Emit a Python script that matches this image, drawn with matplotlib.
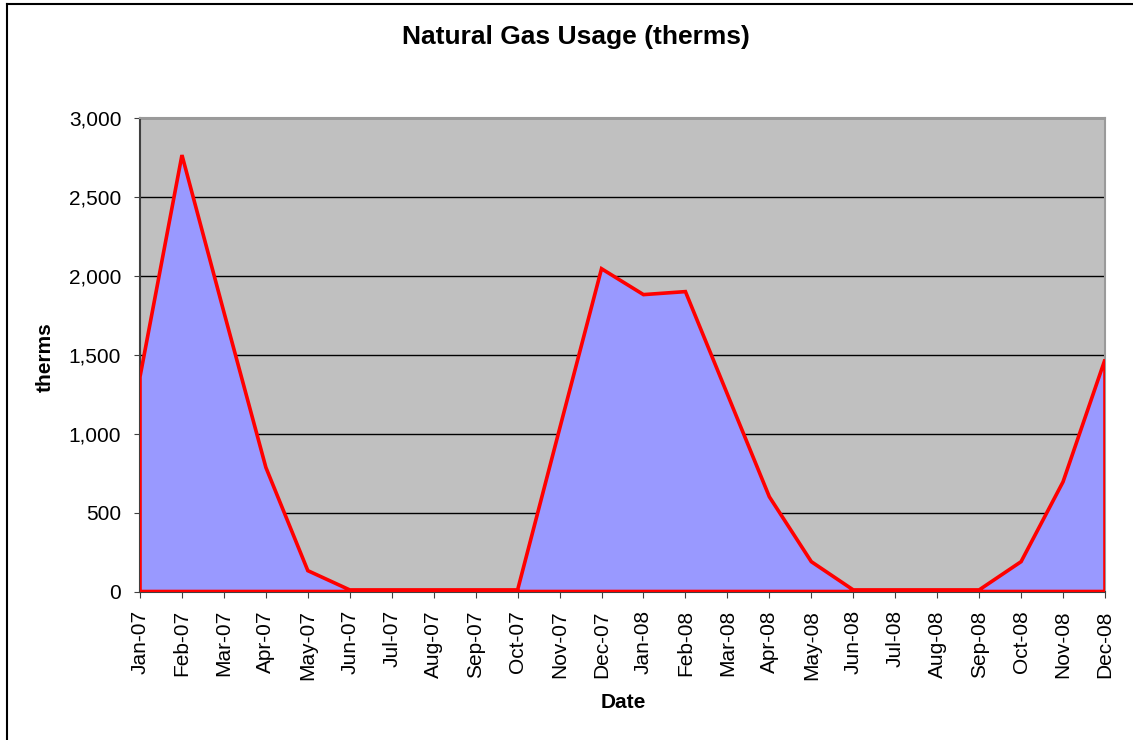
import matplotlib.pyplot as plt
from matplotlib.lines import Line2D
from matplotlib.ticker import StrMethodFormatter

plt.rcParams["font.family"] = ["Liberation Sans", "DejaVu Sans"]

# Monthly natural gas usage
months = [
    "Jan-07", "Feb-07", "Mar-07", "Apr-07", "May-07", "Jun-07",
    "Jul-07", "Aug-07", "Sep-07", "Oct-07", "Nov-07", "Dec-07",
    "Jan-08", "Feb-08", "Mar-08", "Apr-08", "May-08", "Jun-08",
    "Jul-08", "Aug-08", "Sep-08", "Oct-08", "Nov-08", "Dec-08",
]
therms = [
    1360, 2765, 1770, 786, 132, 10,
    10, 10, 10, 10, 1030, 2045,
    1881, 1900, 1250, 600, 189, 10,
    10, 10, 10, 189, 695, 1470,
]
y_ticks = [0, 500, 1000, 1500, 2000, 2500, 3000]

W, H = 1133, 740
fig = plt.figure(figsize=(W / 100, H / 100), dpi=100)
ax = fig.add_axes([140 / W, 1 - 591.5 / H, 965 / W, 473.5 / H])

x = list(range(len(months)))

# Filled area with red outline (like the Excel area chart)
poly_x = [x[0]] + x + [x[-1]]
poly_y = [0] + therms + [0]
ax.fill(poly_x, poly_y, facecolor="#9999FF", edgecolor="#FF0000",
        linewidth=2.6, zorder=3, joinstyle="miter")

ax.set_facecolor("#C0C0C0")
ax.set_xlim(x[0], x[-1])
ax.set_ylim(0, 3000)
ax.set_yticks(y_ticks)
ax.yaxis.set_major_formatter(StrMethodFormatter("{x:,.0f}"))
ax.grid(axis="y", color="black", linewidth=1.0, zorder=1)
ax.set_axisbelow(True)

ax.set_xticks(x)
ax.set_xticklabels(months, rotation=90, fontsize=15)
ax.tick_params(axis="y", labelsize=15, direction="out", length=4.5,
               pad=9, color="#404040")
ax.tick_params(axis="x", direction="out", length=4.5, pad=9,
               color="#404040")

for side in ["top", "right"]:
    ax.spines[side].set_color("#9a9a9a")
    ax.spines[side].set_linewidth(1.5)
for side in ["left", "bottom"]:
    ax.spines[side].set_color("#404040")
    ax.spines[side].set_linewidth(1.5)

fig.text(45 / W, 1 - 357 / H, "therms", rotation=90, ha="center",
         va="center", fontsize=15, fontweight="bold")
fig.text(623 / W, 1 - 703 / H, "Date", ha="center", va="center",
         fontsize=15, fontweight="bold")
fig.text(576 / W, 1 - 37 / H, "Natural Gas Usage (therms)",
         ha="center", va="center", fontsize=19, fontweight="bold")

# Outer chart border (only top and left edges fall inside the image)
fig.lines.append(Line2D([7 / W, 7 / W], [0, 1 - 4 / H],
                        transform=fig.transFigure, color="black",
                        linewidth=1.5))
fig.lines.append(Line2D([7 / W, 1], [1 - 4 / H, 1 - 4 / H],
                        transform=fig.transFigure, color="black",
                        linewidth=1.5))

fig.savefig("out.png", dpi=100)
